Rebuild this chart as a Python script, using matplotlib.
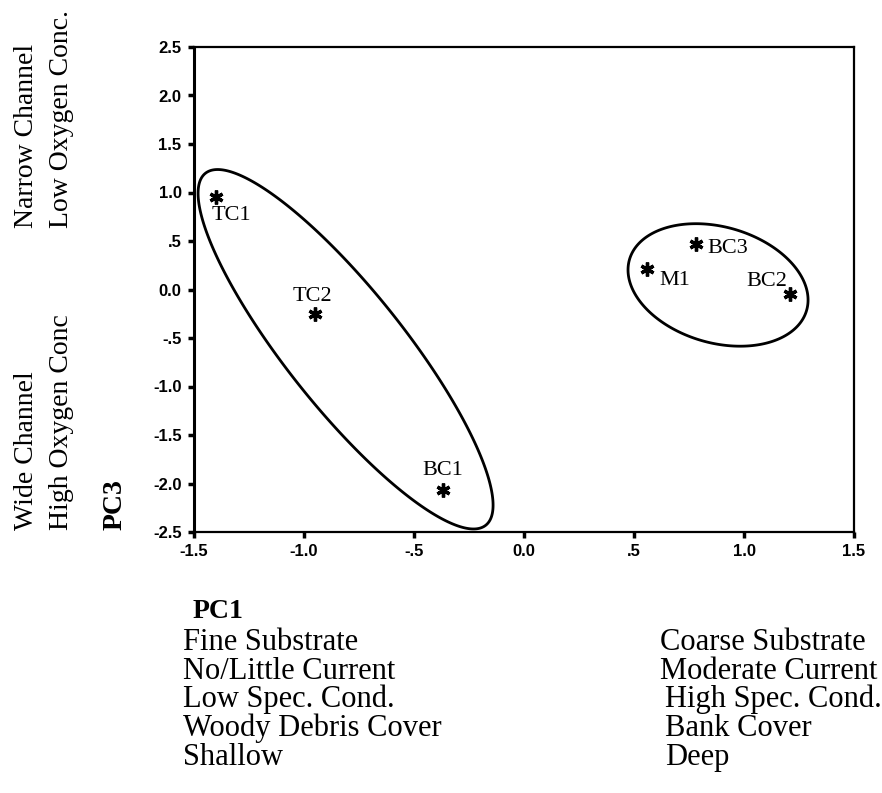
import numpy as np
import matplotlib
matplotlib.use("Agg")
import matplotlib.pyplot as plt
from matplotlib.patches import Polygon

# site scores
sites = ["TC1", "TC2", "BC1", "M1", "BC3", "BC2"]
pc1 = [-1.40, -0.95, -0.37, 0.56, 0.78, 1.21]
pc3 = [0.95, -0.25, -2.07, 0.21, 0.47, -0.05]

# group ellipses: centre (pc1, pc3) and spread matrix in data units
ell_centres = [(-0.811, -0.616), (0.882, 0.047)]
ell_spread = [[[0.4495, -1.0775], [-1.0775, 3.433]],
              [[0.1674, -0.0635], [-0.0635, 0.3987]]]

xticks = [-1.5, -1.0, -0.5, 0.0, 0.5, 1.0, 1.5]
xticklabels = ["-1.5", "-1.0", "-.5", "0.0", ".5", "1.0", "1.5"]
yticks = [-2.5, -2.0, -1.5, -1.0, -0.5, 0.0, 0.5, 1.0, 1.5, 2.0, 2.5]
yticklabels = ["-2.5", "-2.0", "-1.5", "-1.0", "-.5", "0.0", ".5",
               "1.0", "1.5", "2.0", "2.5"]

pc1_low = ["Fine Substrate", "No/Little Current", "Low Spec. Cond.",
           "Woody Debris Cover", "Shallow"]
pc1_high = ["Coarse Substrate", "Moderate Current", "High Spec. Cond.",
            "Bank Cover", "Deep"]

# label offsets in pixels (x right, y up) and alignment
lab_off = {"TC1": (-4, -23, "left"), "TC2": (-3, 13, "center"),
           "BC1": (0, 15, "center"), "M1": (12, -16, "left"),
           "BC3": (12, -9, "left"), "BC2": (-3, 8, "right")}

W, H = 882, 793
SERIF = "Liberation Serif"
SANS = "Liberation Sans"

def fx(px):
	return px / W

def fy(py):
	return 1 - py / H

fig = plt.figure(figsize=(W / 100, H / 100), dpi=100)
ax = fig.add_axes([fx(194), fy(532), fx(854) - fx(194), fy(47) - fy(532)])

ax.plot(pc1, pc3, linestyle="none", marker=(6, 2, 0), markersize=10,
        markeredgewidth=2.4, color="black")

for name, x, y in zip(sites, pc1, pc3):
	dx, dy, ha = lab_off[name]
	ax.annotate(name, (x, y), xytext=(dx, dy), textcoords="offset pixels",
	            ha=ha, va="baseline", fontsize=16, family=SERIF)

# ellipses as closed outlines
t = np.linspace(0, 2 * np.pi, 400, endpoint=False)
for c, s in zip(ell_centres, ell_spread):
	L = np.linalg.cholesky(np.array(s))
	pts = L @ np.vstack([np.cos(t), np.sin(t)])
	xy = np.column_stack([c[0] + pts[0], c[1] + pts[1]])
	ax.add_patch(Polygon(xy, closed=True, fill=False, edgecolor="black",
	                     lw=2.0, joinstyle="round", clip_on=False))

ax.set_xlim(-1.5, 1.5)
ax.set_ylim(-2.5, 2.5)
ax.set_xticks(xticks)
ax.set_xticklabels(xticklabels)
ax.set_yticks(yticks)
ax.set_yticklabels(yticklabels)
for lab in ax.get_xticklabels() + ax.get_yticklabels():
	lab.set_family(SANS)
	lab.set_fontweight("bold")
	lab.set_fontsize(12)
ax.tick_params(direction="out", length=4, width=2.5, pad=5, color="black")
for sp in ax.spines.values():
	sp.set_linewidth(1.6)
ax.spines["left"].set_linewidth(2.2)

# left side labels, rotated
fig.text(fx(33), fy(228), "Narrow Channel", rotation=90, rotation_mode="anchor",
         ha="left", va="baseline", fontsize=20, family=SERIF)
fig.text(fx(68), fy(228), "Low Oxygen Conc.", rotation=90, rotation_mode="anchor",
         ha="left", va="baseline", fontsize=20, family=SERIF)
fig.text(fx(33), fy(530), "Wide Channel", rotation=90, rotation_mode="anchor",
         ha="left", va="baseline", fontsize=20, family=SERIF)
fig.text(fx(68), fy(530), "High Oxygen Conc", rotation=90, rotation_mode="anchor",
         ha="left", va="baseline", fontsize=20, family=SERIF)
fig.text(fx(122), fy(530), "PC3", rotation=90, rotation_mode="anchor",
         ha="left", va="baseline", fontsize=20, family=SERIF, fontweight="bold")

# bottom labels
fig.text(fx(193), fy(618), "PC1", ha="left", va="baseline", fontsize=20,
         family=SERIF, fontweight="bold")
for i, (lo, hi) in enumerate(zip(pc1_low, pc1_high)):
	base = 650 + i * 28.7
	fig.text(fx(183), fy(base), lo, ha="left", va="baseline", fontsize=22, family=SERIF)
	fig.text(fx(660 if i < 2 else 665), fy(base), hi, ha="left", va="baseline",
	         fontsize=22, family=SERIF)

fig.savefig("out.png", dpi=100)
